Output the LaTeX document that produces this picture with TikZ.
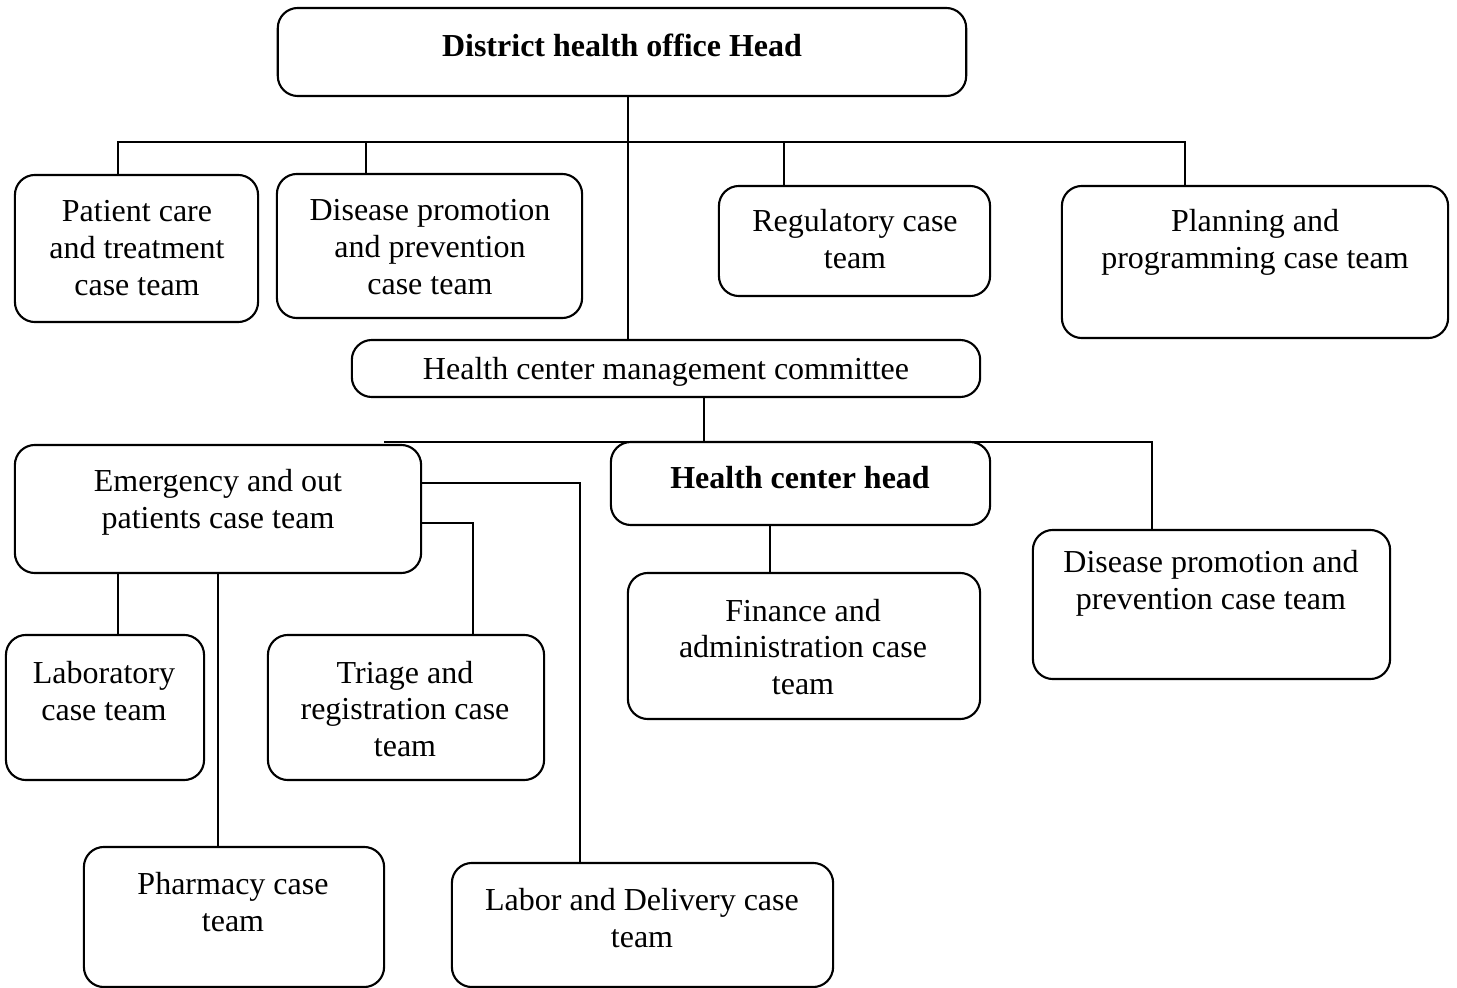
\documentclass[tikz,border=0pt]{standalone}
\usepackage{fontspec}
\setmainfont{Liberation Serif}
\begin{document}
\begin{tikzpicture}[x=0.01cm,y=-0.01cm,line width=0.6pt,
  box/.style ={draw,rounded corners=2mm,inner sep=0pt},
  txt/.style ={align=center,inner sep=0pt,font=\fontsize{9.1}{10.5}\selectfont}]
\useasboundingbox (0,0) rectangle (1457,988);

%district level
\node[box,minimum width=6.88cm,minimum height=0.88cm] (top) at (622,52) {};
\node[txt] (topT) at (622,45) {\textbf{District health office Head}};
\node[box,minimum width=2.43cm,minimum height=1.47cm] (pat) at (136.5,248.5) {};
\node[txt] (patT) at (137,248) {Patient care\\and treatment\\case team};
\node[box,minimum width=3.05cm,minimum height=1.44cm] (dpp1) at (429.5,246) {};
\node[txt] (dpp1T) at (430,247) {Disease promotion\\and prevention\\case team};
\node[box,minimum width=2.71cm,minimum height=1.10cm] (reg) at (854.5,241) {};
\node[txt] (regT) at (855,239) {Regulatory case\\team};
\node[box,minimum width=3.86cm,minimum height=1.52cm] (plan) at (1255,262) {};
\node[txt] (planT) at (1255,242) {Planning and\\programming case team};

%health center level
\node[box,minimum width=6.28cm,minimum height=0.57cm] (mgmt) at (666,368.5) {};
\node[txt] (mgmtT) at (666,372) {Health center management committee};
\node[box,minimum width=4.06cm,minimum height=1.28cm] (emerg) at (218,509) {};
\node[txt] (emergT) at (218,502) {Emergency and out\\patients case team};
\node[box,minimum width=3.79cm,minimum height=0.83cm] (hch) at (800.5,483.5) {};
\node[txt] (hchT) at (800,478) {\textbf{Health center head}};
\node[box,minimum width=3.57cm,minimum height=1.49cm] (dpp2) at (1211.5,604.5) {};
\node[txt] (dpp2T) at (1211,583) {Disease promotion and\\prevention case team};
\node[box,minimum width=3.52cm,minimum height=1.46cm] (fin) at (804,646) {};
\node[txt] (finT) at (803,647) {Finance and\\administration case\\team};

%case teams
\node[box,minimum width=1.98cm,minimum height=1.45cm] (lab) at (105,707.5) {};
\node[txt] (labT) at (104,691) {Laboratory\\case team};
\node[box,minimum width=2.76cm,minimum height=1.45cm] (tri) at (406,707.5) {};
\node[txt] (triT) at (405,709) {Triage and\\registration case\\team};
\node[box,minimum width=3.00cm,minimum height=1.40cm] (pharm) at (234,917) {};
\node[txt] (pharmT) at (233,902) {Pharmacy case\\team};
\node[box,minimum width=3.81cm,minimum height=1.24cm] (labor) at (642.5,925) {};
\node[txt] (laborT) at (642,918) {Labor and Delivery case\\team};

\coordinate (bus1) at (628,142);
\coordinate (bus2) at (704,442);
\coordinate (bus2w) at (384,442);
\coordinate (bus2e) at (1152,442);

\draw (top.south -| bus1) -- (mgmt.north -| bus1);
\draw ([xshift=-0.185cm]pat.north) |- ([xshift=-0.7cm]plan.north |- bus1) -- ([xshift=-0.7cm]plan.north);
\draw ([xshift=-0.635cm]dpp1.north) -- ([xshift=-0.635cm]dpp1.north |- bus1);
\draw ([xshift=-0.705cm]reg.north) -- ([xshift=-0.705cm]reg.north |- bus1);

\draw (mgmt.south -| bus2) -- (bus2);
\draw (bus2w) -- (bus2e) -- (bus2e |- dpp2.north);
\draw ([xshift=-0.305cm]hch.south) -- ([xshift=-0.305cm]hch.south |- fin.north);

\draw ([yshift=0.26cm]emerg.east) -| ([xshift=-0.625cm]labor.north);
\draw ([yshift=-0.14cm]emerg.east) -| ([xshift=0.67cm]tri.north);
\draw ([xshift=0.13cm]lab.north) -- ([xshift=0.13cm]lab.north |- emerg.south);
\draw (emerg.south) -- (emerg.south |- pharm.north);
\end{tikzpicture}
\end{document}
